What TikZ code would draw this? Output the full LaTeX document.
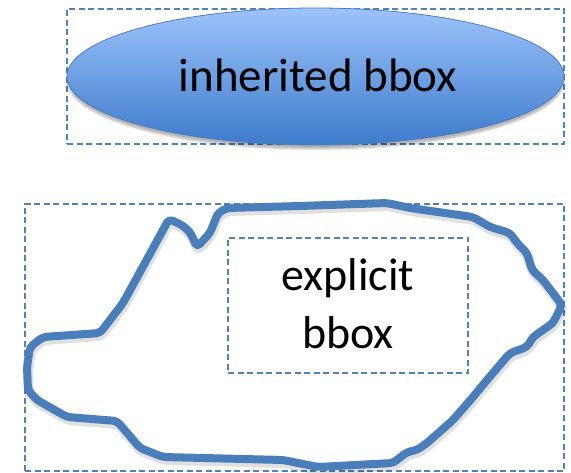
\documentclass[tikz,border=0pt]{standalone}
\usepackage{fontspec}
\setmainfont{Carlito}
\usetikzlibrary{shapes.geometric,shadows.blur}
\definecolor{dashblue}{HTML}{4F81BD}
\definecolor{lineblue}{HTML}{4A7EBB}
\definecolor{topblue}{HTML}{9DC3FA}
\definecolor{botblue}{HTML}{3D7BCB}
\tikzset{
  bboxrect/.style={draw=dashblue, line width=1.4pt, dash pattern=on 6pt off 3.5pt, inner sep=0pt},
  blobline/.style={draw=lineblue, line width=8pt, line join=round, rounded corners=4pt},
  blobshadow/.style={draw=black, opacity=0.12, line width=10pt, line join=round, rounded corners=4pt},
  bigtext/.style={font=\fontsize{47}{57}\selectfont, text=black}
}
\def\blobpath{(218,213) -- (227,208) -- (300,206) -- (387,203) -- (410,208) -- (473,217)
  -- (490,227) -- (510,233) -- (517,243) -- (527,253) -- (532,270) -- (543,280) -- (562,305)
  -- (553,323) -- (533,337) -- (527,347) -- (510,353) -- (487,380) -- (473,397) -- (453,420)
  -- (427,443) -- (417,450) -- (407,452) -- (393,463) -- (318,467) -- (283,460) -- (163,457)
  -- (140,448) -- (117,421) -- (67,417) -- (37,400) -- (28,390) -- (27,367) -- (30,347)
  -- (43,337) -- (100,333) -- (123,303) -- (169,219) -- (182,225) -- (190,232) -- (197,247)
  -- (210,233) -- cycle}
\begin{document}
\begin{tikzpicture}[x=1pt,y=-1pt]
\useasboundingbox (0,0) rectangle (571,473);
% top: ellipse with inherited bbox
\node[bboxrect, minimum width=497pt, minimum height=135pt] (topbox) at (315.5,76.5) {};
\node[ellipse, draw=lineblue, line width=0.8pt, top color=topblue, bottom color=botblue,
  minimum width=497pt, minimum height=137pt, inner sep=0pt,
  blur shadow={shadow xshift=0pt, shadow yshift=-4pt, shadow opacity=30, shadow blur steps=8}] (ell) at (315.5,76.5) {};
\node[bigtext, anchor=base] (ltop) at (318,92) {inherited bbox};
% bottom: freeform with explicit bbox
\node[bboxrect, minimum width=539pt, minimum height=267pt] (outerbox) at (294.5,337.5) {};
\draw[blobshadow, shift={(1,3)}] \blobpath;
\draw[blobline] \blobpath;
\node[bboxrect, minimum width=240pt, minimum height=135pt] (innerbox) at (348,305.5) {};
\node[bigtext, align=center, font=\fontsize{46}{58}\selectfont] (lbot) at (348,304) {explicit\\bbox};
\end{tikzpicture}
\end{document}
